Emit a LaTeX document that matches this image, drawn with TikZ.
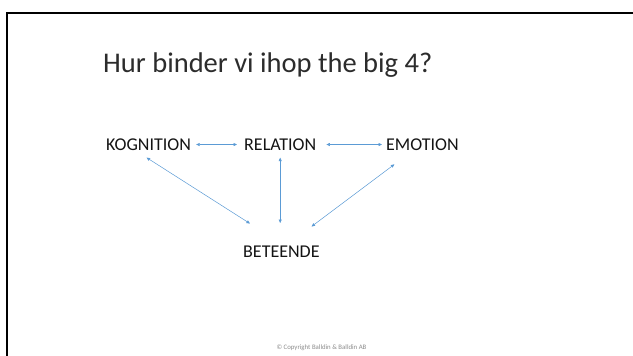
\documentclass[tikz,border=0pt]{standalone}
\usepackage{fontspec}
\setmainfont{Carlito}
\usetikzlibrary{arrows.meta}
\definecolor{arrblue}{RGB}{91,155,213}
\definecolor{txt}{RGB}{20,20,20}
\tikzset{
  lbl/.style={inner sep=0pt, anchor=base west, text=txt, font=\fontsize{18}{20}\selectfont},
  arr/.style={draw=arrblue, line width=0.5pt, {Triangle[length=3.5pt,width=3pt]}-{Triangle[length=3.5pt,width=3pt]}},
  frame/.style={line width=2pt, draw=black, line join=miter}
}
\begin{document}
\begin{tikzpicture}[x=1pt,y=-1pt]
\useasboundingbox (0,0) rectangle (633,356);
\fill[white] (0,0) rectangle (633,356);
\draw[frame] (7,356) -- (7,13) -- (633,13);
\node[inner sep=0pt, anchor=base west, text=txt!90, font=\fontsize{28.5}{32}\selectfont] (title) at (103,72.3) {Hur binder vi ihop the big 4?};
\node[lbl] (k) at (106,150.3) {KOGNITION};
\node[lbl] (r) at (244,150.3) {RELATION};
\node[lbl] (e) at (386,150.3) {EMOTION};
\node[lbl] (b) at (243,257.3) {BETEENDE};
\draw[arr] ([xshift=5pt]k.east) -- ([xshift=-7pt]r.west);
\draw[arr] ([xshift=10pt]r.east) -- ([xshift=-4pt]e.west);
\draw[arr] ([shift={(-2,7)}]k.south) -- ([shift={(7,-22)}]b.north west);
\draw[arr] ([shift={(0,7)}]r.south) -- ([shift={(0,72.4)}]r.south);
\draw[arr] ([shift={(-28,13.7)}]e.south) -- ([shift={(-8.3,-19)}]b.north east);
\node[inner sep=0pt, text=black!45, font=\fontsize{6.8}{8}\selectfont] (copy) at (321.5,348) {© Copyright Balldin \& Balldin AB};
\end{tikzpicture}
\end{document}
